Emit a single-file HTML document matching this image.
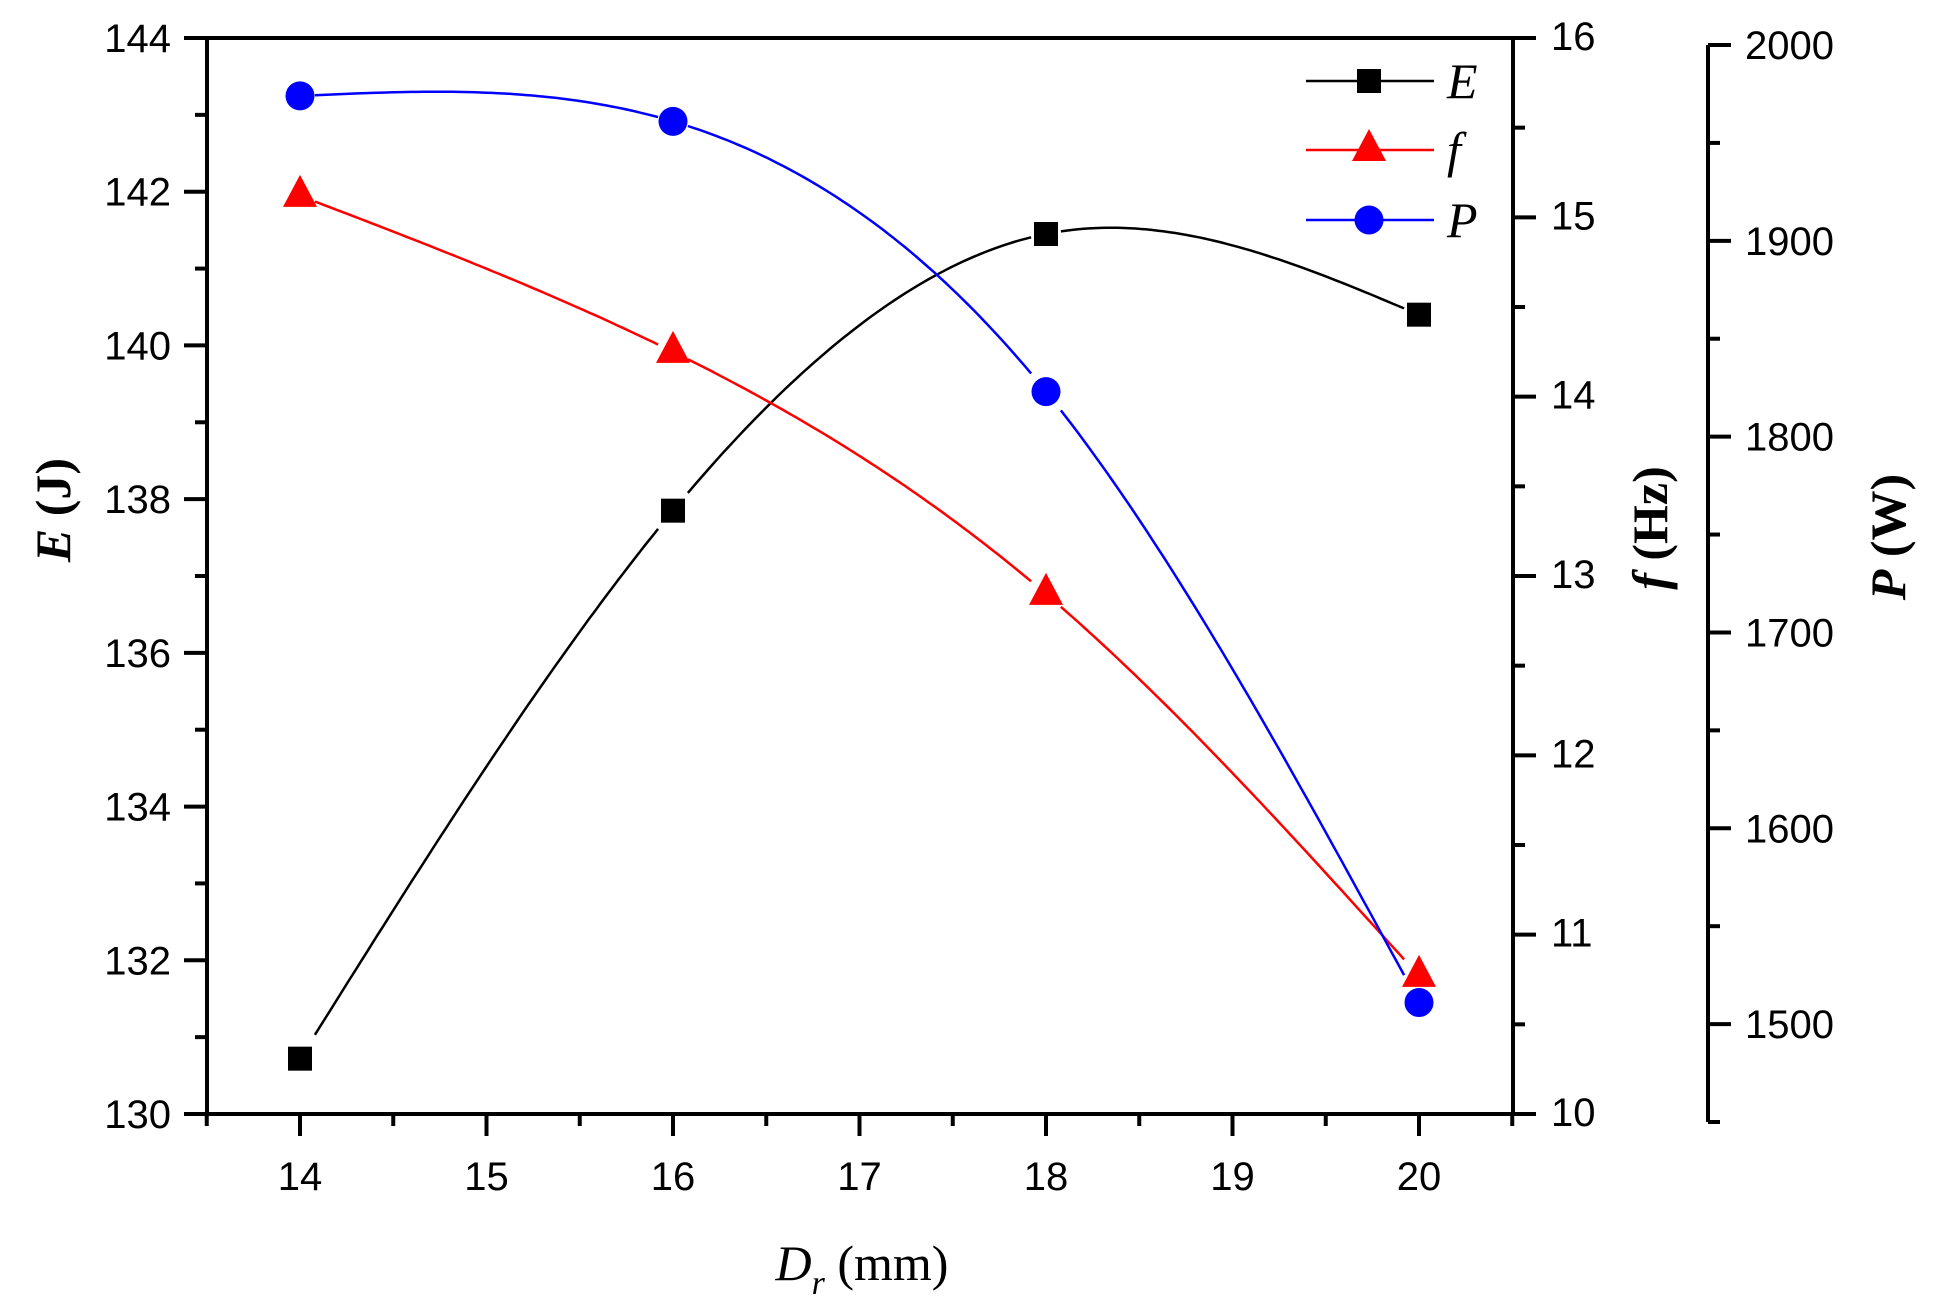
<!DOCTYPE html>
<html><head><meta charset="utf-8"><style>
html,body{margin:0;padding:0;background:#fff;}
svg{display:block;}
.t{font-family:"Liberation Sans",Arial,sans-serif;font-size:40px;fill:#000;}
.s{font-family:"Liberation Serif","Times New Roman",serif;font-size:50px;fill:#000;}
</style></head><body>
<svg id="chart" width="1939" height="1306" viewBox="0 0 1939 1306" xmlns="http://www.w3.org/2000/svg">
<g id="axes"></g><g id="series"></g><g id="legend"></g>
</svg>
<script>
const xCats = [14, 16, 18, 20];
const eVals = [130.72, 137.85, 141.45, 140.4];
const fVals = [15.12, 14.25, 12.9, 10.77];
const pVals = [1974, 1961, 1823, 1511];
const xTicks = [14, 15, 16, 17, 18, 19, 20];
const eTicks = [130, 132, 134, 136, 138, 140, 142, 144];
const fTicks = [10, 11, 12, 13, 14, 15, 16];
const pTicks = [1500, 1600, 1700, 1800, 1900, 2000];

const NS = "http://www.w3.org/2000/svg";
const X = v => 300 + (v - 14) * 186.5;
const YE = v => 1114 - (v - 130) * (1076 / 14);
const YF = v => 1114 - (v - 10) * (1076 / 6);
const YP = v => 1122 - (v - 1450) * (1077 / 550);
function mk(tag, attrs, parent) { const e = document.createElementNS(NS, tag); for (const k in attrs) e.setAttribute(k, attrs[k]); parent.appendChild(e); return e; }
const axes = document.getElementById('axes'), ser = document.getElementById('series'), leg = document.getElementById('legend');

let a = mk('path', {d: 'M207,38 H1513 V1114 H207 Z', fill: 'none', stroke: '#000', 'stroke-width': 4}, axes);
 
let pa = mk('line', {x1: 1708, y1: 45, x2: 1708, y2: 1122, stroke: '#000', 'stroke-width': 4}, axes);
 

for (let v = 13.5; v <= 20.51; v += 0.5) {
  const maj = xTicks.includes(v);
  mk('line', {x1: X(v), y1: 1114, x2: X(v), y2: 1114 + (maj ? 22 : 12), stroke: '#000', 'stroke-width': 4}, axes);
}
xTicks.forEach(v => { const t = mk('text', {x: X(v), y: 1190, 'text-anchor': 'middle', class: 't'}, axes); t.textContent = v;
    });
for (let v = 130; v <= 144; v += 1) {
  const maj = eTicks.includes(v);
  mk('line', {x1: 207, y1: YE(v), x2: 207 - (maj ? 23 : 12), y2: YE(v), stroke: '#000', 'stroke-width': 4}, axes);
}
eTicks.forEach(v => { const t = mk('text', {x: 171, y: YE(v) + 14, 'text-anchor': 'end', class: 't'}, axes); t.textContent = v;
    });
for (let v = 10; v <= 16.01; v += 0.5) {
  const maj = fTicks.includes(v);
  mk('line', {x1: 1513, y1: YF(v), x2: 1513 + (maj ? 23 : 12), y2: YF(v), stroke: '#000', 'stroke-width': 4}, axes);
}
fTicks.forEach(v => { const t = mk('text', {x: 1551, y: YF(v) + 12, class: 't'}, axes); t.textContent = v;
    });
for (let v = 1450; v <= 2000; v += 50) {
  const maj = pTicks.includes(v);
  mk('line', {x1: 1708, y1: YP(v), x2: 1708 + (maj ? 23 : 12), y2: YP(v), stroke: '#000', 'stroke-width': 4}, axes);
}
pTicks.forEach(v => { const t = mk('text', {x: 1745, y: YP(v) + 14, class: 't'}, axes); t.textContent = v;
    });

let tt = mk('text', {x: 862, y: 1280, 'text-anchor': 'middle', class: 's'}, axes);
tt.innerHTML = '<tspan font-style="italic">D</tspan><tspan font-style="italic" font-size="34" dy="14">r</tspan><tspan dy="-14"> (mm)</tspan>';
 
function vtitle(x, y, name, sym, unit) {
  const t = mk('text', {x: x, y: y, 'text-anchor': 'middle', class: 's', 'font-weight': 'bold', transform: `rotate(-90 ${x} ${y})`}, axes);
  t.innerHTML = `<tspan font-style="italic">${sym}</tspan> (${unit})`;
   
}
vtitle(70, 510, 'e-axis-title', 'E', 'J');
vtitle(1667, 528, 'f-axis-title', 'f', 'Hz');
vtitle(1905, 537, 'p-axis-title', 'P', 'W');

function spline(xs, ys) {
  const n = xs.length, h = [], al = [], l = [1], mu = [0], z = [0], c = new Array(n).fill(0), b = [], d = [];
  for (let i = 0; i < n - 1; i++) h.push(xs[i + 1] - xs[i]);
  for (let i = 1; i < n - 1; i++) al[i] = 3 / h[i] * (ys[i + 1] - ys[i]) - 3 / h[i - 1] * (ys[i] - ys[i - 1]);
  for (let i = 1; i < n - 1; i++) { l[i] = 2 * (xs[i + 1] - xs[i - 1]) - h[i - 1] * mu[i - 1]; mu[i] = h[i] / l[i]; z[i] = (al[i] - h[i - 1] * z[i - 1]) / l[i]; }
  for (let j = n - 2; j >= 0; j--) { c[j] = z[j] - mu[j] * c[j + 1]; b[j] = (ys[j + 1] - ys[j]) / h[j] - h[j] * (c[j + 1] + 2 * c[j]) / 3; d[j] = (c[j + 1] - c[j]) / (3 * h[j]); }
  return x => { let i = Math.min(n - 2, Math.max(0, xs.findIndex((v, k) => k < n - 1 && x <= xs[k + 1]))); const dx = x - xs[i]; return ys[i] + b[i] * dx + c[i] * dx * dx + d[i] * dx * dx * dx; };
}
function drawSeries(vals, Y, color, name, marker) {
  const f = spline(xCats, vals);
  let d = '';
  const gap = 0.08;
  for (let i = 0; i < xCats.length - 1; i++) {
    const x0 = xCats[i] + gap, x1 = xCats[i + 1] - gap;
    for (let k = 0; k <= 60; k++) { const x = x0 + (x1 - x0) * k / 60; d += (k ? 'L' : 'M') + X(x).toFixed(1) + ',' + Y(f(x)).toFixed(1); }
  }
  const p = mk('path', {d: d, fill: 'none', stroke: color, 'stroke-width': 2.5}, ser);
   
  xCats.forEach((c, i) => { const m = marker(X(c), Y(vals[i]), ser);
      });
}
const sq = (x, y, g) => mk('rect', {x: x - 12, y: y - 12, width: 24, height: 24, fill: '#000'}, g);
const tri = (x, y, g) => mk('polygon', {points: `${x},${y - 21} ${x - 17},${y + 11} ${x + 17},${y + 11}`, fill: '#f00'}, g);
const cir = (x, y, g) => mk('circle', {cx: x, cy: y, r: 14.5, fill: '#00f'}, g);
drawSeries(eVals, YE, '#000', 'e-series', sq);
drawSeries(fVals, YF, '#f00', 'f-series', tri);
drawSeries(pVals, YP, '#00f', 'p-series', cir);

[['E', '#000', sq, 81], ['f', '#f00', tri, 150], ['P', '#00f', cir, 220]].forEach(([lab, col, m, y]) => {
  const g = mk('g', {}, leg);
   
  mk('line', {x1: 1306, y1: y, x2: 1434, y2: y, stroke: col, 'stroke-width': 2.5}, g);
  m(1369, y, g);
  const t = mk('text', {x: 1447, y: y + 17, class: 's', 'font-style': 'italic', 'font-size': 54}, g); t.textContent = lab;
});
</script>
</body></html>
